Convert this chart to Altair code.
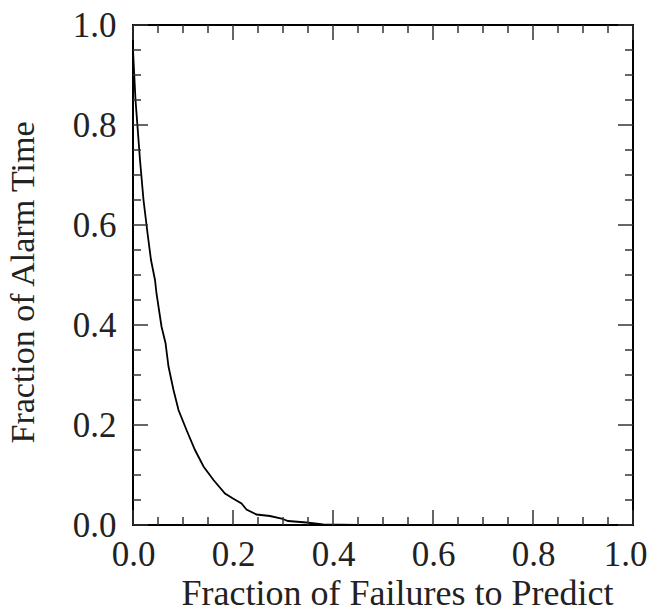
import altair as alt
import pandas as pd

# Curve
curve_x = [0.0, 0.002, 0.005, 0.009, 0.014, 0.021, 0.029, 0.036, 0.044, 0.047, 0.057, 0.065,
           0.071, 0.081, 0.091, 0.107, 0.124, 0.141, 0.161, 0.184, 0.2, 0.217, 0.227,
           0.247, 0.274, 0.297, 0.31, 0.347, 0.38, 0.45]
curve_y = [0.95, 0.91, 0.85, 0.797, 0.73, 0.65, 0.584, 0.53, 0.49, 0.463, 0.397, 0.364,
           0.317, 0.27, 0.23, 0.19, 0.15, 0.117, 0.09, 0.063, 0.053, 0.043, 0.031,
           0.021, 0.018, 0.013, 0.008, 0.005, 0.001, 0.0]

major_ticks = [0.0, 0.2, 0.4, 0.6, 0.8, 1.0]
minor_ticks = [0.05, 0.1, 0.15, 0.25, 0.3, 0.35, 0.45, 0.5, 0.55,
               0.65, 0.7, 0.75, 0.85, 0.9, 0.95]

W, H = 500, 500
MAJ, MIN = 15, 8
FONT = "Liberation Serif"
FS = 35
TXT = "#222222"
TICK = "#333333"

curve = pd.DataFrame({"x": curve_x, "y": curve_y})
maj = pd.DataFrame({"v": major_ticks})
mino = pd.DataFrame({"v": minor_ticks})

xscale = alt.Scale(domain=[0, 1], nice=False, zero=False)
yscale = alt.Scale(domain=[0, 1], nice=False, zero=False)

xaxis = alt.Axis(values=major_ticks, format=".1f", ticks=False, tickSize=0, grid=False,
                 domain=False, labelFont=FONT, labelFontSize=FS, labelColor=TXT,
                 labelPadding=12, labelBaseline="top", labelFlush=False,
                 labelOverlap=False,
                 labelOffset={"condition": {"test": "datum.value >= 1", "value": -8},
                              "value": 0},
                 title="Fraction of Failures to Predict", titleFont=FONT,
                 titleFontSize=36, titleFontWeight="normal", titleColor=TXT,
                 titleX=264, titleY=79, titleBaseline="alphabetic", titleAlign="center")
yaxis = alt.Axis(values=major_ticks, format=".1f", ticks=False, tickSize=0, grid=False,
                 domain=False, labelFont=FONT, labelFontSize=FS, labelColor=TXT,
                 labelPadding=17, labelAlign="right", labelBaseline="middle",
                 labelFlush=False, labelOverlap=False,
                 title="Fraction of Alarm Time", titleFont=FONT,
                 titleFontSize=34, titleFontWeight="normal", titleColor=TXT,
                 titleAngle=270, titleX=-100, titleY=257, titleBaseline="alphabetic",
                 titleAlign="center")


def X(field):
    return alt.X(field, type="quantitative", scale=xscale, axis=xaxis)


def Y(field):
    return alt.Y(field, type="quantitative", scale=yscale, axis=yaxis)


line = alt.Chart(curve).mark_line(color="black", strokeWidth=1.8).encode(
    x=X("x"), y=Y("y"), order="x:Q")

layers = [line]
for df, L in [(maj, MAJ), (mino, MIN)]:
    # bottom / top ticks
    layers.append(alt.Chart(df).mark_rule(color=TICK, strokeWidth=1.5).encode(
        x=X("v"), y=alt.value(H), y2=alt.value(H - L)))
    layers.append(alt.Chart(df).mark_rule(color=TICK, strokeWidth=1.5).encode(
        x=X("v"), y=alt.value(0), y2=alt.value(L)))
    # left / right ticks
    layers.append(alt.Chart(df).mark_rule(color=TICK, strokeWidth=1.5).encode(
        y=Y("v"), x=alt.value(0), x2=alt.value(L)))
    layers.append(alt.Chart(df).mark_rule(color=TICK, strokeWidth=1.5).encode(
        y=Y("v"), x=alt.value(W), x2=alt.value(W - L)))

chart = alt.layer(*layers).properties(
    width=W, height=H,
    autosize=alt.AutoSizeParams(type="none"),
    padding={"left": 125, "top": 17, "right": 15, "bottom": 87},
    background="white",
).configure_view(stroke="black", strokeWidth=2)

chart.save("out.html", embed_options={"renderer": "svg", "actions": False})
